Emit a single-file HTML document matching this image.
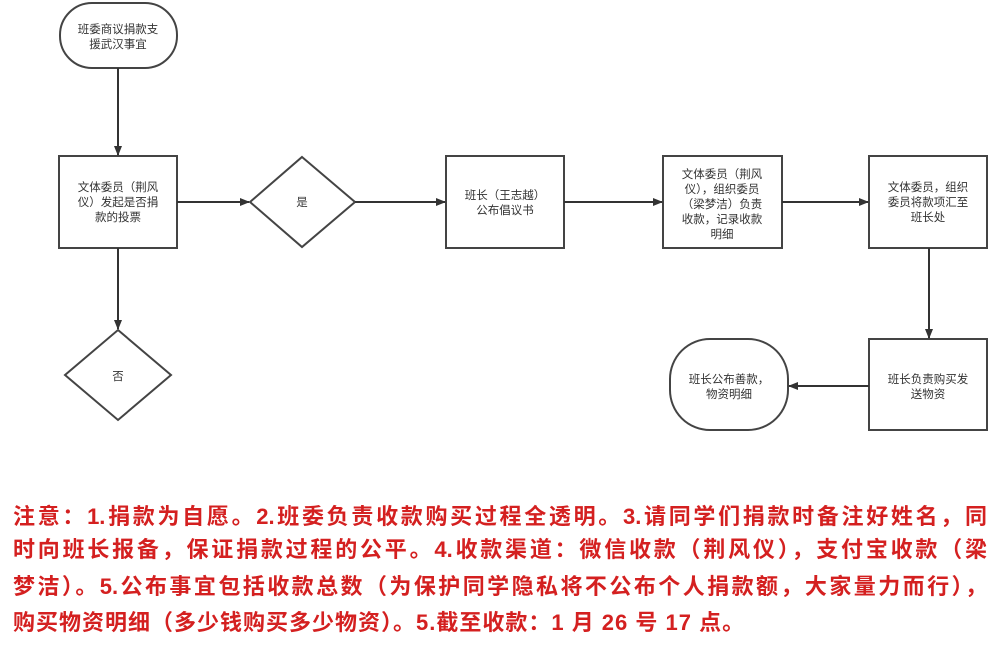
<!DOCTYPE html>
<html><head><meta charset="utf-8"><style>
body{margin:0;width:1002px;height:645px;background:#fff;overflow:hidden;position:relative;font-family:"Liberation Sans","Noto Sans CJK SC",sans-serif}
svg{position:absolute;left:0;top:0}
.n{position:absolute;left:13px;width:974px;color:#d42020;font-weight:bold;font-size:22px;line-height:26px;white-space:nowrap;font-family:"Liberation Sans","Noto Sans CJK SC",sans-serif}
.j{text-align:justify;text-align-last:justify}
</style></head><body>
<svg width="1002" height="480" xmlns="http://www.w3.org/2000/svg">
<defs><marker id="a" markerWidth="10" markerHeight="10" refX="9" refY="5" orient="auto" markerUnits="userSpaceOnUse"><path d="M0,1 L10,5 L0,9 z" fill="#333"/></marker></defs>
<g stroke="#444" stroke-width="2" fill="#fff">
<rect x="60" y="3" width="117" height="65" rx="32" ry="32"/>
<rect x="59" y="156" width="118" height="92"/>
<polygon points="302,157 355,202 302,247 250,202"/>
<rect x="446" y="156" width="118" height="92"/>
<rect x="663" y="156" width="119" height="92"/>
<rect x="869" y="156" width="118" height="92"/>
<rect x="869" y="339" width="118" height="91"/>
<rect x="670" y="339" width="118" height="91" rx="40" ry="40"/>
<polygon points="118,330 171,375 118,420 65,375"/>
</g>
<g stroke="#333" stroke-width="2" fill="none" marker-end="url(#a)">
<line x1="118" y1="68" x2="118" y2="155"/>
<line x1="177" y1="202" x2="249" y2="202"/>
<line x1="355" y1="202" x2="445" y2="202"/>
<line x1="564" y1="202" x2="662" y2="202"/>
<line x1="782" y1="202" x2="868" y2="202"/>
<line x1="929" y1="248" x2="929" y2="338"/>
<line x1="869" y1="386" x2="789" y2="386"/>
<line x1="118" y1="248" x2="118" y2="329"/>
</g>
<g font-size="11.5" fill="#333" text-anchor="middle" font-family="Liberation Sans,Noto Sans CJK SC,sans-serif">
<text x="118" y="33">班委商议捐款支</text><text x="118" y="48">援武汉事宜</text>
<text x="118" y="191">文体委员（荆风</text><text x="118" y="206">仪）发起是否捐</text><text x="118" y="221">款的投票</text>
<text x="302" y="206">是</text>
<text x="118" y="380">否</text>
<text x="505" y="199">班长（王志越）</text><text x="505" y="214">公布倡议书</text>
<text x="722" y="178">文体委员（荆风</text><text x="722" y="193">仪），组织委员</text><text x="722" y="208">（梁梦洁）负责</text><text x="722" y="223">收款，记录收款</text><text x="722" y="238">明细</text>
<text x="928" y="191">文体委员，组织</text><text x="928" y="206">委员将款项汇至</text><text x="928" y="221">班长处</text>
<text x="928" y="383">班长负责购买发</text><text x="928" y="398">送物资</text>
<text x="729" y="383">班长公布善款，</text><text x="729" y="398">物资明细</text>
</g>
</svg>
<div class="n j" style="top:504px">注意：1.捐款为自愿。2.班委负责收款购买过程全透明。3.请同学们捐款时备注好姓名，同</div>
<div class="n j" style="top:537px">时向班长报备，保证捐款过程的公平。4.收款渠道：微信收款（荆风仪），支付宝收款（梁</div>
<div class="n j" style="top:574px">梦洁）。5.公布事宜包括收款总数（为保护同学隐私将不公布个人捐款额，大家量力而行），</div>
<div class="n" style="top:610px;letter-spacing:1px">购买物资明细（多少钱购买多少物资）。5.截至收款：1 月 26 号 17 点。</div>
</body></html>
